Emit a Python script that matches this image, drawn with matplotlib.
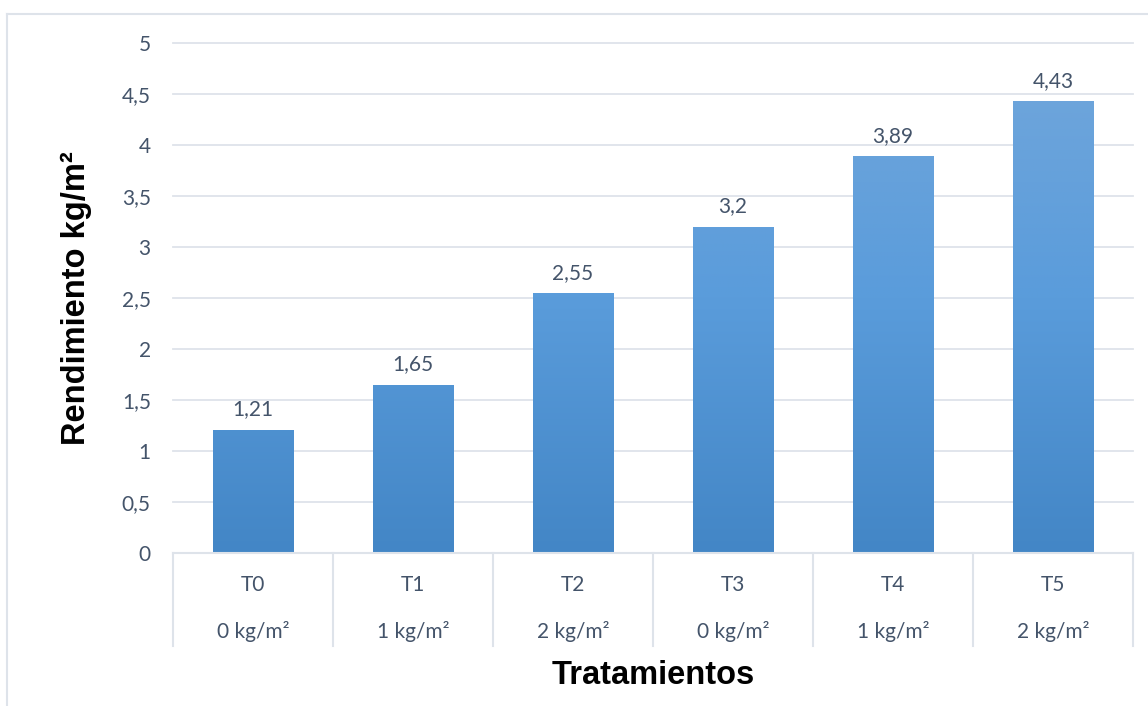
import matplotlib
matplotlib.use("Agg")
import matplotlib.pyplot as plt
import numpy as np
from matplotlib.colors import LinearSegmentedColormap
from matplotlib.lines import Line2D

categories = ["T0", "T1", "T2", "T3", "T4", "T5"]
doses = ["0 kg/m²", "1 kg/m²", "2 kg/m²", "0 kg/m²", "1 kg/m²", "2 kg/m²"]
values = [1.21, 1.65, 2.55, 3.2, 3.89, 4.43]
value_labels = ["1,21", "1,65", "2,55", "3,2", "3,89", "4,43"]
yticks = [0, 0.5, 1, 1.5, 2, 2.5, 3, 3.5, 4, 4.5, 5]
ytick_labels = ["0", "0,5", "1", "1,5", "2", "2,5", "3", "3,5", "4", "4,5", "5"]

W, H = 1148, 706
fig = plt.figure(figsize=(W / 100, H / 100), dpi=100)
text_color = "#44546A"
grid_color = "#DEE3EA"
tick_font = ["Lato", "DejaVu Sans"]
title_font = ["Liberation Sans", "DejaVu Sans"]
fs = 15

# figure border (top and left visible)
fig.add_artist(Line2D([7 / W, 1.0], [1 - 14 / H, 1 - 14 / H], color=grid_color, lw=1.5, transform=fig.transFigure))
fig.add_artist(Line2D([7 / W, 7 / W], [1 - 14 / H, 0.0], color=grid_color, lw=1.5, transform=fig.transFigure))

x0, x1 = 173, 1133
y0, y1 = 43, 553
ax = fig.add_axes([x0 / W, 1 - y1 / H, (x1 - x0) / W, (y1 - y0) / H])
ax.set_xlim(-0.5, len(categories) - 0.5)
ax.set_ylim(0, 5)
for s in ax.spines.values():
    s.set_visible(False)
ax.set_yticks(yticks)
ax.set_yticklabels(ytick_labels, fontsize=fs, color=text_color, family=tick_font)
ax.tick_params(axis="y", which="both", length=0, width=0, pad=16)
ax.tick_params(axis="x", which="both", length=0, width=0)
ax.set_xticks([])
for yv in yticks[1:]:
    ax.axhline(yv, color=grid_color, lw=1.3, zorder=0, clip_on=False)

cmap = LinearSegmentedColormap.from_list("g", ["#4386C6", "#5A9CDB", "#72A7DB"])
grad = np.linspace(0, 1, 256).reshape(-1, 1)
bw = 0.505
bars = ax.bar(range(len(values)), values, width=bw, color="none", zorder=2)
for i, (b, v) in enumerate(zip(bars, values)):
    im = ax.imshow(grad, extent=[i - bw / 2, i + bw / 2, 0, 5], origin="lower",
                   cmap=cmap, aspect="auto", zorder=2)
    im.set_clip_path(b)
    ax.text(i, v + 0.1, value_labels[i], ha="center", va="bottom", fontsize=fs,
            color=text_color, family=tick_font)
ax.set_xlim(-0.5, len(categories) - 0.5)
ax.set_ylim(0, 5)

# baseline
fig.add_artist(Line2D([x0 / W, x1 / W], [1 - y1 / H, 1 - y1 / H], color=grid_color, lw=1.5,
                      transform=fig.transFigure, zorder=5))

# multi-level category axis
trans = ax.get_xaxis_transform()
sep_bottom = -(646 - 553) / (y1 - y0)
for k in range(len(categories) + 1):
    ax.add_artist(Line2D([k - 0.5, k - 0.5], [0, sep_bottom], color=grid_color, lw=1.5,
                         transform=trans, clip_on=False))
for i, (c, d) in enumerate(zip(categories, doses)):
    ax.text(i, -(585 - 553) / (y1 - y0), c, transform=trans, ha="center", va="center",
            fontsize=fs, color=text_color, family=tick_font)
    ax.text(i, -(632 - 553) / (y1 - y0), d, transform=trans, ha="center", va="center",
            fontsize=fs, color=text_color, family=tick_font)

fig.text(653 / W, 1 - 675 / H, "Tratamientos", ha="center", va="center", fontsize=23.5,
         fontweight="bold", family=title_font, color="black")
fig.text(76 / W, 1 - 298 / H, "Rendimiento kg/m²", ha="center", va="center", fontsize=23.5,
         fontweight="bold", family=title_font, color="black", rotation=90)

fig.savefig("out.png", dpi=100)
